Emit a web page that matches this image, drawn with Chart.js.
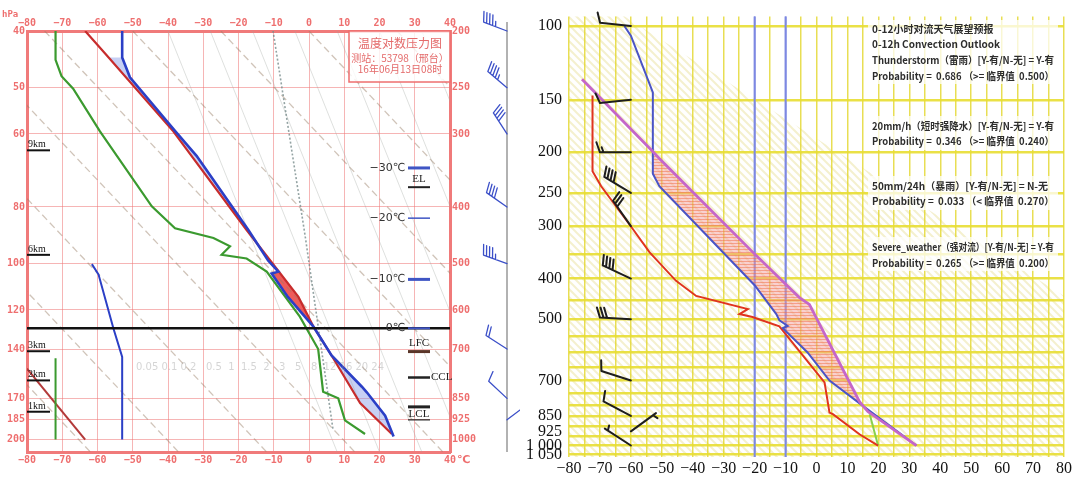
<!DOCTYPE html>
<html>
<head>
<meta charset="utf-8">
<script src="https://cdn.jsdelivr.net/npm/chart.js@4.4.0/dist/chart.umd.min.js"></script>
<style>
html, body { margin: 0; padding: 0; background: #fff; }
#wrap { position: relative; width: 1081px; height: 481px; overflow: hidden; }
#left { position: absolute; left: 0; top: 0; }
#right { position: absolute; left: 520px; top: 0; }
</style>
</head>
<body>
<div id="wrap">
  <canvas id="left" width="520" height="481"></canvas>
  <canvas id="right" width="561" height="481"></canvas>
</div>
<script>
// ---------- left: 温度对数压力图 (station 53798) ----------
const leftTickP = [200, 250, 300, 400, 500, 600, 700, 850, 925, 1000];
const leftTickH = [40, 50, 60, 80, 100, 120, 140, 170, 185, 200];

const leftTempP = [200, 222, 240, 297, 327, 438, 494, 516, 520, 570, 640, 718, 812, 830, 910, 988];
const leftTempT = [-53, -53, -50.8, -37.9, -31.9, -17.2, -11.6, -8.7, -10.6, -6, 1.2, 6.4, 15, 16.4, 21.6, 24];
const leftParcelP = [200, 220, 297, 438, 570, 640, 718, 866, 978];
const leftParcelT = [-63.5, -57.4, -38.5, -17.7, -3, 1.2, 6.4, 14.5, 23.5];
const leftDewP = [200, 224, 239, 251, 297, 399, 435, 452, 467, 483, 490, 516, 616, 700, 828, 850, 927, 978];
const leftDewT = [-71.9, -71.9, -70.2, -66.9, -59.3, -44.6, -38, -27.1, -22.4, -24.8, -17.7, -12, -2.6, 2.6, 4, 8.3, 10.2, 15.9];

// small curves in the lower left corner
const leftAuxBlueP = [501, 522, 645, 722, 1000];
const leftAuxBlueT = [-61.6, -59.7, -55.5, -53, -53];
const leftAuxGreenP = [726, 1000];
const leftAuxGreenT = [-71.9, -71.9];
const leftAuxRedP = [756, 1000];
const leftAuxRedT = [-80, -63.5];

// background guide lines (top at 200 hPa, bottom at 1050 hPa)
const leftMixP = [200, 448, 960];
const leftMixT = [-10.2, -1.1, 6.8];
const leftDryTopT = [-175, -150, -125, -100, -75, -50, -25, 0, 25];
const leftDryBotT = [-62, -37, -12, 13, 38, 63, 88, 113, 138];
const leftMoistTopT = [-40, -28, -16, -4, 8, 20, 32];
const leftMoistBotT = [8, 20, 32, 44, 56, 68, 80];

const leftWindP = [200, 250, 300, 400, 500, 700, 850, 925];
const leftWindDir = [291, 310, 327, 305, 290, 303, 313, 53];
const leftWindSpd = [18, 18, 16, 16, 18, 8, 4, 4];

const isoName = ['\u221230\u2103', '\u221220\u2103', '\u221210\u2103', '0\u2103'];
const isoP = [343, 418, 532, 645];
const heightName = ['9km', '6km', '3km', '2km', '1km'];
const heightP = [320, 483, 706, 792, 896];
const levelP = { EL: 370, LFC: 707, CCL: 783, LCL: 879 };
const freezeP = 645;

// ---------- right: 0-12h convection outlook ----------
const rightGridP = [100, 150, 200, 250, 300, 350, 400, 450, 500, 550, 600, 650, 700, 750, 800, 850, 900, 950, 1000, 1050];
const rightLabelP = [100, 150, 200, 250, 300, 400, 500, 700, 850, 925, 1000, 1050];
const rightLabelText = ['100', '150', '200', '250', '300', '400', '500', '700', '850', '925', '1 000', '1 050'];

const rightTempP = [100, 105.5, 144, 225, 241, 415, 486, 503, 519, 525, 600, 700, 820, 1000];
const rightTempT = [-62.1, -60, -52.9, -52.9, -50.8, -20, -13, -12, -9.3, -10.9, -2.9, 4.2, 16.5, 32.3];
const rightParcelP = [134, 150, 199, 207, 346, 444, 461, 786, 830, 1000];
const rightParcelT = [-75.8, -69.3, -53, -50.8, -20.6, -5.5, -2.3, 13.9, 16.6, 32.3];
const rightDewP = [146.5, 222, 241, 301, 346, 405, 440, 473, 486, 494, 520, 707, 835, 842, 940, 1000];
const rightDewT = [-72.4, -72.4, -69.6, -59.9, -54, -45.4, -38.9, -22.2, -24.9, -20.7, -12, 2.6, 4.2, 5.3, 13.9, 19.9];
const rightGreenP = [842, 1000];
const rightGreenT = [17.2, 19.9];
const rightIsoT = [-20, -10];
const rightHatchT = [-62, 80];
const rightHatchP = [100, 440];

const rightWindP = [100, 150, 200, 250, 300, 400, 500, 700, 850, 925, 1000];
const rightWindDir = [276, 264, 270, 301, 325, 295, 273, 288, 298, 54, 303];
const rightWindSpd = [4, 4, 6, 16, 12, 16, 12, 4, 4, 2, 2];

const outlookText = [
  '0-12小时对流天气展望预报',
  '0-12h Convection Outlook',
  'Thunderstorm（雷雨）[Y-有/N-无] = Y-有',
  'Probability =  0.686 （>= 临界值  0.500）',
  '20mm/h（短时强降水）[Y-有/N-无] = Y-有',
  'Probability =  0.346 （>= 临界值  0.240）',
  '50mm/24h（暴雨）[Y-有/N-无] = N-无',
  'Probability =  0.033 （< 临界值  0.270）',
  'Severe_weather（强对流）[Y-有/N-无] = Y-有',
  'Probability =  0.265 （>= 临界值  0.200）'
];
const outlookY = [29, 44, 60, 76, 126, 141, 186, 201, 247, 263];

// ---------- helpers ----------
const pts = (P, T) => P.map((p, i) => ({ x: T[i], y: p }));
const line = (P, T, color, width, extra) => Object.assign({
  data: pts(P, T), borderColor: color, borderWidth: width, pointRadius: 0,
  showLine: true, fill: false, tension: 0
}, extra || {});
const fmtT = v => (v < 0 ? '\u2212' + (-v) : String(v));

function tAt(P, T, p) {
  if (p <= P[0]) return T[0];
  for (let i = 1; i < P.length; i++) {
    if (p <= P[i]) {
      const f = Math.log(p / P[i - 1]) / Math.log(P[i] / P[i - 1]);
      return T[i - 1] + f * (T[i] - T[i - 1]);
    }
  }
  return T[T.length - 1];
}

function makePattern(w, h, draw) {
  const c = document.createElement('canvas');
  c.width = w; c.height = h;
  draw(c.getContext('2d'), w, h);
  return c;
}

function drawBarb(ctx, bx, by, dir, spd, len, flen, gap, color, width) {
  const r = dir * Math.PI / 180;
  const ux = Math.sin(r), uy = -Math.cos(r);
  const px = -uy, py = ux;
  const tx = bx + ux * len, ty = by + uy * len;
  ctx.strokeStyle = color;
  ctx.lineWidth = width;
  ctx.lineCap = 'round';
  ctx.beginPath();
  ctx.moveTo(bx, by);
  ctx.lineTo(tx, ty);
  let s = spd, k = 0;
  while (s >= 3) {
    const sx = tx - ux * gap * k, sy = ty - uy * gap * k;
    ctx.moveTo(sx, sy);
    ctx.lineTo(sx + px * flen + ux * flen * 0.35, sy + py * flen + uy * flen * 0.35);
    s -= 4; k++;
  }
  if (s >= 1) {
    const kk = k === 0 ? 1 : k;
    const sx = tx - ux * gap * kk, sy = ty - uy * gap * kk;
    ctx.moveTo(sx, sy);
    ctx.lineTo(sx + px * flen * 0.5 + ux * flen * 0.18, sy + py * flen * 0.5 + uy * flen * 0.18);
  }
  ctx.stroke();
}

// fills the area between parcel and temperature curves
const areaFill = {
  id: 'areaFill',
  beforeDatasetsDraw(chart, args, o) {
    if (!o || !o.parcelP) return;
    const { ctx, chartArea: a, scales: { x, y } } = chart;
    const n = 500, lo = Math.log(o.pTop), hi = Math.log(o.pBottom);
    const pos = new Path2D(), neg = new Path2D();
    for (let i = 0; i < n; i++) {
      const p0 = Math.exp(lo + (hi - lo) * i / n), p1 = Math.exp(lo + (hi - lo) * (i + 1) / n);
      const a0 = tAt(o.parcelP, o.parcelT, p0), a1 = tAt(o.parcelP, o.parcelT, p1);
      const b0 = tAt(o.tempP, o.tempT, p0), b1 = tAt(o.tempP, o.tempT, p1);
      const path = (a0 + a1 - b0 - b1) > 0 ? pos : neg;
      const y0 = y.getPixelForValue(p0), y1 = y.getPixelForValue(p1);
      path.moveTo(x.getPixelForValue(a0), y0);
      path.lineTo(x.getPixelForValue(a1), y1);
      path.lineTo(x.getPixelForValue(b1), y1);
      path.lineTo(x.getPixelForValue(b0), y0);
      path.closePath();
    }
    ctx.save();
    ctx.beginPath();
    ctx.rect(a.left, a.top, a.right - a.left, a.bottom - a.top);
    ctx.clip();
    ctx.fillStyle = typeof o.pos === 'function' ? o.pos(ctx) : o.pos;
    ctx.fill(pos);
    if (o.neg) { ctx.fillStyle = o.neg; ctx.fill(neg); }
    ctx.restore();
  }
};

// ---------- left chart ----------
const leftRed = '#ee6f6f';
const leftTickFont = { family: '"DejaVu Sans Mono", monospace', size: 10, weight: 'bold' };

const leftNotes = {
  id: 'leftNotes',
  afterDatasetsDraw(chart) {
    const { ctx, chartArea: a, scales: { y } } = chart;
    const Y = p => y.getPixelForValue(p);
    const seg = (x1, y1, x2, y2, c, w) => {
      ctx.strokeStyle = c; ctx.lineWidth = w;
      ctx.beginPath(); ctx.moveTo(x1, y1); ctx.lineTo(x2, y2); ctx.stroke();
    };
    ctx.save();
    // faint mixing ratio labels
    ctx.font = '10px "DejaVu Sans", sans-serif';
    ctx.fillStyle = 'rgba(150,150,150,0.4)';
    ctx.textBaseline = 'middle';
    ctx.fillText('0.05 0.1 0.2   0.5  1  1.5  2   3   5   8  12 16 20 24', 136, 367);

    // freezing level
    seg(a.left, Y(freezeP), a.right, Y(freezeP), '#111', 2.5);

    // height marks
    ctx.font = '10px "Liberation Serif", serif';
    ctx.fillStyle = '#111';
    ctx.textAlign = 'left';
    ctx.textBaseline = 'alphabetic';
    heightName.forEach((n, i) => {
      const yy = Y(heightP[i]);
      ctx.fillText(n, a.left + 1, yy - 3);
      seg(a.left, yy, a.left + 23, yy, '#111', 2);
    });

    // isotherm heights
    const xl = a.right - 42, xr = a.right - 20;
    ctx.font = '11px "DejaVu Sans", sans-serif';
    ctx.textAlign = 'right';
    ctx.textBaseline = 'middle';
    const isoW = [3, 1.5, 3, 2];
    isoName.forEach((n, i) => {
      const yy = Y(isoP[i]);
      ctx.fillStyle = '#333';
      ctx.fillText(n, xl - 3, yy);
      seg(xl, yy, xr, yy, '#3f55c4', isoW[i]);
    });

    // EL, LFC, CCL, LCL
    ctx.font = '11px "Liberation Serif", serif';
    ctx.textAlign = 'center';
    ctx.fillStyle = '#222';
    let yy = Y(levelP.EL);
    ctx.fillText('EL', (xl + xr) / 2, yy - 8);
    seg(xl, yy, xr, yy, '#222', 2);
    yy = Y(levelP.LFC);
    ctx.fillText('LFC', (xl + xr) / 2, yy - 8);
    seg(xl, yy, xr, yy, '#5a3528', 3);
    yy = Y(levelP.CCL);
    seg(xl, yy, xr, yy, '#222', 2.5);
    ctx.textAlign = 'left';
    ctx.fillText('CCL', xr + 1, yy);
    yy = Y(levelP.LCL);
    ctx.textAlign = 'center';
    seg(xl, yy, xr, yy, '#222', 3);
    ctx.fillText('LCL', (xl + xr) / 2, yy + 7);
    seg(xl, yy + 13, xr, yy + 13, '#222', 1.2);

    // title box
    ctx.fillStyle = 'rgba(255,255,255,0.8)';
    ctx.fillRect(a.right - 101, a.top, 101, 51);
    ctx.strokeStyle = leftRed; ctx.lineWidth = 1.5;
    ctx.strokeRect(a.right - 101, a.top, 101, 51);
    ctx.fillStyle = '#e46a6a';
    ctx.font = '12px "Noto Sans CJK SC", sans-serif';
    ctx.fillText('温度对数压力图', a.right - 50, a.top + 12);
    ctx.font = '10px "Noto Sans CJK SC", sans-serif';
    ctx.fillText('测站：53798（邢台）', a.right - 50, a.top + 27);
    ctx.fillText('16年06月13日08时', a.right - 50, a.top + 38);

    // axis captions
    ctx.font = 'bold 9px "DejaVu Sans Mono", monospace';
    ctx.fillStyle = leftRed;
    ctx.textAlign = 'left';
    ctx.fillText('hPa', 2, 15);
    ctx.font = 'bold 11px "DejaVu Sans", sans-serif';
    ctx.fillText('\u2103', a.right + 7, a.bottom + 8);

    // wind barbs
    const bx = a.right + 57;
    seg(bx, 22, bx, a.bottom, 'rgba(170,170,170,0.9)', 2);
    leftWindP.forEach((p, i) => {
      drawBarb(ctx, bx, Y(p), leftWindDir[i], leftWindSpd[i], 25, 10, 3.2, '#3b4fc8', 1.3);
    });
    ctx.restore();
  }
};

const leftGuides = [
  ...leftDryTopT.map((t, i) => line([200, 1050], [t, leftDryBotT[i]], 'rgba(150,125,100,0.45)', 1.3, { borderDash: [7, 4], order: 10 })),
  ...leftMoistTopT.map((t, i) => line([200, 1050], [t, leftMoistBotT[i]], 'rgba(160,165,160,0.35)', 1, { order: 11 }))
];

new Chart(document.getElementById('left'), {
  type: 'scatter',
  data: {
    datasets: [
      line(leftTempP, leftTempT, '#2b3fc6', 2.6),
      line(leftParcelP, leftParcelT, '#c72c2c', 2.2),
      line(leftDewP, leftDewT, '#3b9a2f', 2.2),
      line(leftAuxBlueP, leftAuxBlueT, '#2b3fc6', 2),
      line(leftAuxGreenP, leftAuxGreenT, '#3b9a2f', 2),
      line(leftAuxRedP, leftAuxRedT, '#b33a3a', 2),
      line(leftMixP, leftMixT, 'rgba(120,140,140,0.8)', 1.6, { borderDash: [2, 2], order: 5 }),
      ...leftGuides
    ]
  },
  options: {
    responsive: false,
    animation: false,
    layout: { padding: 0 },
    plugins: {
      legend: { display: false },
      tooltip: { enabled: false },
      areaFill: {
        parcelP: leftParcelP, parcelT: leftParcelT, tempP: leftTempP, tempT: leftTempT,
        pTop: 222, pBottom: 985, pos: 'rgba(236,62,62,0.85)', neg: 'rgba(130,150,230,0.45)'
      }
    },
    scales: {
      x: {
        type: 'linear', position: 'bottom', min: -80, max: 40,
        afterFit: s => { s.height = 29; },
        ticks: { stepSize: 10, autoSkip: false, maxRotation: 0, padding: 2, color: leftRed, font: leftTickFont, callback: fmtT },
        grid: { color: 'rgba(238,120,120,0.55)', lineWidth: 1, drawTicks: false },
        border: { color: '#f07a7a', width: 3 }
      },
      xt: {
        type: 'linear', position: 'top', min: -80, max: 40,
        afterFit: s => { s.height = 31; },
        ticks: { stepSize: 10, autoSkip: false, maxRotation: 0, padding: 2, color: leftRed, font: leftTickFont, callback: fmtT },
        grid: { display: false, drawTicks: false },
        border: { color: '#f07a7a', width: 3 }
      },
      y: {
        type: 'logarithmic', position: 'right', reverse: true, min: 200, max: 1050,
        afterFit: s => { s.width = 70; },
        afterBuildTicks: s => { s.ticks = leftTickP.map(v => ({ value: v })); },
        ticks: { autoSkip: false, padding: 2, color: leftRed, font: leftTickFont, callback: v => String(v) },
        grid: { color: 'rgba(238,120,120,0.55)', lineWidth: 1, drawTicks: false },
        border: { color: '#f07a7a', width: 3 }
      },
      yl: {
        type: 'logarithmic', position: 'left', reverse: true, min: 200, max: 1050,
        afterFit: s => { s.width = 27; },
        afterBuildTicks: s => { s.ticks = leftTickP.map(v => ({ value: v })); },
        ticks: { autoSkip: false, padding: 2, color: leftRed, font: leftTickFont, callback: v => String(leftTickH[leftTickP.indexOf(v)]) },
        grid: { display: false, drawTicks: false },
        border: { color: '#f07a7a', width: 3 }
      }
    }
  },
  plugins: [areaFill, leftNotes]
});

// ---------- right chart ----------
const hatchTile = makePattern(8, 8, (g, w) => {
  g.strokeStyle = 'rgba(240,233,185,0.7)';
  g.lineWidth = 2;
  g.beginPath();
  g.moveTo(0, 0); g.lineTo(w, w);
  g.moveTo(-2, w - 2); g.lineTo(2, w + 2);
  g.moveTo(w - 2, -2); g.lineTo(w + 2, 2);
  g.stroke();
});
const capeTile = makePattern(4, 3, (g, w, h) => {
  g.fillStyle = 'rgba(244,150,150,0.45)';
  g.fillRect(0, 0, w, h);
  g.fillStyle = 'rgba(240,110,70,0.5)';
  g.fillRect(0, 0, w, 1);
});
const isoBlue = '#7d88e2';

const rightDecor = {
  id: 'rightDecor',
  beforeDraw(chart) {
    const { ctx, chartArea: a, scales: { x, y } } = chart;
    ctx.save();
    ctx.beginPath();
    ctx.moveTo(a.left, a.top);
    ctx.lineTo(x.getPixelForValue(rightHatchT[0]), a.top);
    ctx.lineTo(x.getPixelForValue(rightHatchT[1]), y.getPixelForValue(rightHatchP[1]));
    ctx.lineTo(a.right, a.bottom);
    ctx.lineTo(a.left, a.bottom);
    ctx.closePath();
    ctx.fillStyle = ctx.createPattern(hatchTile, 'repeat');
    ctx.fill();
    ctx.restore();
  },
  beforeDatasetsDraw(chart) {
    const { ctx, chartArea: a, scales: { x } } = chart;
    ctx.save();
    ctx.strokeStyle = isoBlue;
    ctx.lineWidth = 2;
    rightIsoT.forEach(t => {
      const xx = x.getPixelForValue(t);
      ctx.beginPath(); ctx.moveTo(xx, a.top); ctx.lineTo(xx, a.bottom); ctx.stroke();
    });
    ctx.restore();
  },
  afterDatasetsDraw(chart) {
    const { ctx, scales: { x, y } } = chart;
    ctx.save();
    const bx = x.getPixelForValue(-60);
    rightWindP.forEach((p, i) => {
      drawBarb(ctx, bx, y.getPixelForValue(p), rightWindDir[i], rightWindSpd[i], 31, 10, 3.6, '#1e1e1e', 2);
    });
    ctx.restore();
  },
  afterDraw(chart) {
    const { ctx } = chart;
    ctx.save();
    ctx.fillStyle = 'rgba(255,255,255,0.75)';
    [[348, 20, 190, 64], [348, 116, 190, 34], [348, 176, 190, 34], [348, 237, 190, 34]].forEach(r => ctx.fillRect(...r));
    ctx.fillStyle = '#2d2d2d';
    ctx.font = 'bold 10px "Noto Sans CJK SC", sans-serif';
    ctx.textBaseline = 'middle';
    ctx.textAlign = 'left';
    outlookText.forEach((t, i) => ctx.fillText(t, 352, outlookY[i], 182));
    ctx.restore();
  }
};

const rightTickP = [...new Set([...rightGridP, ...rightLabelP])].sort((a, b) => a - b);
const serif16 = { family: '"Liberation Serif", "DejaVu Serif", serif', size: 16 };

new Chart(document.getElementById('right'), {
  type: 'scatter',
  data: {
    datasets: [
      line(rightParcelP, rightParcelT, '#c566c9', 2.8),
      line(rightTempP, rightTempT, '#4a54c6', 2),
      line(rightDewP, rightDewT, '#e0341f', 2),
      line(rightGreenP, rightGreenT, '#88d04c', 2)
    ]
  },
  options: {
    responsive: false,
    animation: false,
    layout: { padding: { top: 3, right: 17, left: 0, bottom: 0 } },
    plugins: {
      legend: { display: false },
      tooltip: { enabled: false },
      areaFill: {
        parcelP: rightParcelP, parcelT: rightParcelT, tempP: rightTempP, tempT: rightTempT,
        pTop: 199, pBottom: 850, pos: ctx => ctx.createPattern(capeTile, 'repeat')
      }
    },
    scales: {
      x: {
        type: 'linear', position: 'bottom', min: -80, max: 80,
        afterFit: s => { s.height = 24; },
        ticks: { stepSize: 5, autoSkip: false, maxRotation: 0, padding: 2, color: '#111', font: serif16,
          callback: v => (v % 10 === 0 ? fmtT(v) : '') },
        grid: { color: c => (rightIsoT.includes(c.tick && c.tick.value) ? isoBlue : 'rgba(226,214,40,0.8)'), lineWidth: 1.5, drawTicks: false },
        border: { display: false }
      },
      y: {
        type: 'logarithmic', position: 'left', reverse: true, min: 95, max: 1065,
        afterFit: s => { s.width = 49; },
        afterBuildTicks: s => { s.ticks = rightTickP.map(v => ({ value: v })); },
        ticks: { autoSkip: false, padding: 7, color: '#111', font: serif16,
          callback: v => { const i = rightLabelP.indexOf(v); return i < 0 ? '' : rightLabelText[i]; } },
        grid: { color: c => (rightGridP.includes(c.tick && c.tick.value) ? 'rgba(232,222,50,0.9)' : 'rgba(0,0,0,0)'), lineWidth: 2.5, drawTicks: false },
        border: { display: false }
      }
    }
  },
  plugins: [rightDecor, areaFill]
});
</script>
</body>
</html>
